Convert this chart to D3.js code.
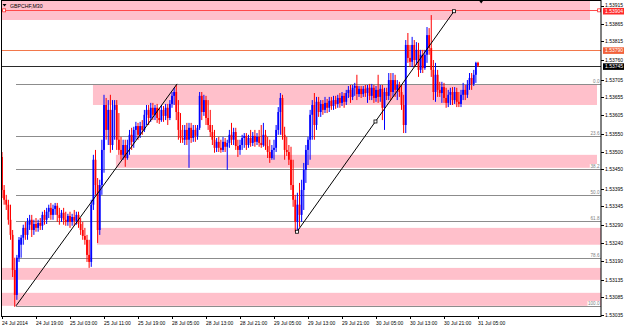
<!DOCTYPE html>
<html>
<head>
<meta charset="utf-8">
<script src="https://cdn.jsdelivr.net/npm/d3@7"></script>
<style>
  body { margin: 0; background: #fff; }
  svg { display: block; font-family: "Liberation Sans", Arial, sans-serif; }
</style>
</head>
<body>
<div id="chart"></div>
<script>
// ===== GBPCHF M30 chart =====

const W = 625, H = 326;
const symbol = "GBPCHF,M30";
const base = 1.53;

// OHLC per M30 bar, in points above 1.53000: [open, high, low, close]
const bars = [
  [485,499,368,391],[391,405,349,363],[363,377,334,349],[349,363,292,306],[306,349,249,263],
  [263,277,143,163],[163,198,58,92],[92,206,78,198],[198,257,186,249],[235,263,198,255],
  [255,292,235,283],[283,300,249,263],[263,311,249,300],[292,320,277,306],[306,320,257,277],
  [277,306,263,294],[294,311,272,283],[283,306,272,297],[297,311,277,289],[289,329,277,320],
  [320,334,292,306],[306,340,294,329],[329,349,311,340],[340,354,306,320],[320,349,306,337],
  [337,354,320,346],[346,354,300,320],[320,340,292,311],[311,334,300,326],[326,340,292,306],
  [306,329,289,300],[300,323,289,317],[317,329,283,300],[300,323,289,314],[314,334,289,303],
  [303,329,292,320],[320,329,283,294],[294,311,263,277],[277,300,249,260],[260,283,235,249],
  [249,263,186,206],[206,249,169,186],[186,363,172,349],[349,491,334,477],[477,505,377,405],
  [405,425,240,277],[277,420,263,405],[405,534,377,505],[505,662,440,633],[633,653,534,562],
  [562,647,519,619],[619,662,497,519],[519,647,505,619],[619,647,534,633],[633,647,505,534],
  [534,610,491,505],[505,542,477,491],[491,534,477,519],[519,534,457,482],[482,534,477,519],
  [519,562,491,548],[548,568,505,528],[528,571,511,562],[562,585,534,573],[573,582,534,548],
  [548,585,539,573],[573,590,548,562],[562,619,556,605],[605,633,576,619],[619,633,576,596],
  [596,639,585,625],[625,639,590,605],[605,633,590,625],[625,636,582,596],[596,625,579,590],
  [590,633,585,619],[619,630,585,602],[602,636,590,625],[625,636,576,596],[596,647,590,636],
  [636,670,625,659],[659,682,633,670],[670,690,590,613],[613,647,534,562],[562,610,525,539],
  [539,576,525,534],[534,576,519,562],[562,582,519,534],[534,582,454,568],[568,582,525,539],
  [539,576,528,562],[562,576,528,545],[545,576,534,568],[568,670,562,659],[659,670,590,613],
  [613,662,602,647],[647,659,576,596],[596,647,562,576],[576,619,542,556],[556,576,519,534],
  [534,562,497,511],[511,539,499,528],[528,542,499,511],[511,534,497,505],[505,542,499,528],
  [528,539,499,514],[514,534,448,525],[525,562,511,548],[548,582,519,534],[534,568,519,556],
  [556,568,505,516],[516,534,485,505],[505,534,491,519],[519,548,505,539],[539,553,511,545],
  [545,553,505,519],[519,548,511,539],[539,562,514,525],[525,556,516,545],[545,562,514,528],
  [528,553,519,542],[542,562,514,525],[525,576,511,519],[519,582,514,548],[548,562,505,516],
  [516,542,482,499],[499,534,468,482],[482,519,477,505],[505,534,477,511],[511,576,499,562],
  [562,627,548,613],[613,667,548,653],[653,662,534,548],[548,571,477,505],[505,542,488,499],
  [499,519,462,477],[477,514,391,405],[405,477,343,363],[363,377,272,300],[300,383,269,349],
  [349,411,286,320],[320,420,300,391],[391,468,334,448],[448,519,411,505],[505,542,462,534],
  [534,619,477,605],[605,647,534,633],[633,667,534,576],[576,656,562,642],[642,656,599,613],
  [613,647,599,636],[636,647,605,619],[619,656,610,639],[639,650,610,625],[625,656,613,645],
  [645,656,619,630],[630,659,619,647],[647,659,622,636],[636,662,625,653],[653,667,625,639],
  [639,670,630,659],[659,667,625,642],[642,676,633,667],[667,687,653,676],[676,690,639,656],
  [656,690,647,682],[682,696,659,687],[687,719,647,664],[664,687,656,679],[679,687,653,664],
  [664,687,656,679],[679,690,656,667],[667,690,639,682],[682,693,647,659],[659,693,647,682],
  [682,690,639,653],[653,687,642,676],[676,719,639,656],[656,690,642,679],[679,690,590,625],
  [625,682,562,670],[670,682,647,659],[659,724,647,704],[704,724,647,670],[670,724,656,704],
  [704,719,656,676],[676,704,647,690],[690,699,656,670],[670,690,619,633],[633,662,553,576],
  [576,818,553,804],[804,838,753,767],[767,804,741,756],[756,827,741,804],[804,818,741,761],
  [761,812,747,790],[790,810,713,733],[733,790,724,776],[776,790,724,738],[738,790,733,776],
  [776,855,753,832],[832,852,776,795],[795,889,713,733],[733,761,647,670],[670,753,642,719],
  [719,733,656,676],[676,699,656,667],[667,699,639,684],[684,696,639,653],[653,682,625,639],
  [639,676,627,662],[662,682,633,670],[670,684,633,647],[647,684,636,670],[670,682,627,642],
  [642,670,627,636],[636,676,627,662],[662,696,647,676],[676,690,647,662],[662,704,653,690],
  [690,724,676,710],[710,724,676,693],[693,733,687,719],[719,756,696,753],[753,756,741,745]
];

// time axis labels, one every 16 bars
const timeLabels = [
  "24 Jul 2014", "24 Jul 19:00", "25 Jul 03:00", "25 Jul 11:00", "25 Jul 19:00",
  "28 Jul 05:00", "28 Jul 13:00", "28 Jul 21:00", "29 Jul 05:00", "29 Jul 13:00",
  "29 Jul 21:00", "30 Jul 05:00", "30 Jul 13:00", "30 Jul 21:00", "31 Jul 05:00"
];
const labelStep = 16;

const priceTicks = [
  1.53915, 1.53865, 1.53815, 1.53760, 1.53705, 1.53655, 1.53605, 1.53550, 1.53500,
  1.53450, 1.53395, 1.53345, 1.53290, 1.53240, 1.53190, 1.53135, 1.53085, 1.53035
];

// pink supply/demand zones: [from bar, to bar, top price, bottom price]
const zones = [
  [-2, 276.7, 1.53930, 1.53875],
  [42.8, 280, 1.53690, 1.53633],
  [53.6, 280, 1.53491, 1.53454],
  [44.7, 282, 1.53283, 1.53235],
  [-2, 282, 1.53169, 1.53135],
  [-2, 282, 1.53098, 1.53061]
];

// fibonacci retracement
const fibLevels = [0, 23.6, 38.2, 50, 61.8, 78.6, 100];
const fibTop = 1.53693, fibBottom = 1.53061, fibStartBar = 6.6;

// trend lines: [bar1, price1, bar2, price2]
const trendLines = [
  [6.6, 1.53061, 82.4, 1.53693],
  [138.8, 1.53272, 212.7, 1.53900]
];

// horizontal lines with their price tags
const hLines = [
  { price: 1.53904, line: "#ff4a4a", tag: "#ff2a2a" },
  { price: 1.53790, line: "#f2784b", tag: "#f2613a" },
  { price: 1.53745, line: "#2a2a2a", tag: "#000000" }
];

const plot = { left: 1.5, right: 601, top: 0, bottom: 316 };

const x = d3.scaleLinear().domain([0, 282]).range([2, 601.25]);
const y = d3.scaleLinear().domain([1.53032, 1.53932]).range([plot.bottom, plot.top]);
const px = v => base + v / 100000;

const svg = d3.select("#chart").append("svg")
  .attr("width", W).attr("height", H);

svg.append("defs").append("clipPath").attr("id", "plot-clip")
  .append("rect")
  .attr("x", plot.left).attr("y", plot.top)
  .attr("width", plot.right - plot.left).attr("height", plot.bottom - plot.top);

const g = svg.append("g").attr("clip-path", "url(#plot-clip)");

// zones
g.selectAll("rect.zone").data(zones).join("rect")
  .attr("class", "zone")
  .attr("x", d => x(d[0]))
  .attr("width", d => x(d[1]) - x(d[0]))
  .attr("y", d => y(d[2]))
  .attr("height", d => y(d[3]) - y(d[2]))
  .attr("fill", "#ffc0cb");

// fib levels
const fibPrice = lv => fibTop - (fibTop - fibBottom) * lv / 100;
g.selectAll("line.fib").data(fibLevels).join("line")
  .attr("x1", x(fibStartBar)).attr("x2", plot.right)
  .attr("y1", d => Math.round(y(fibPrice(d))) + 0.5)
  .attr("y2", d => Math.round(y(fibPrice(d))) + 0.5)
  .attr("stroke", "#8c8c8c").attr("stroke-width", 1);

// horizontal lines
g.selectAll("line.hl").data(hLines).join("line")
  .attr("x1", plot.left).attr("x2", plot.right)
  .attr("y1", d => Math.round(y(d.price)) + 0.5)
  .attr("y2", d => Math.round(y(d.price)) + 0.5)
  .attr("stroke", d => d.line).attr("stroke-width", 1);

// candles
const cg = g.append("g");
bars.forEach((b, i) => {
  const [o, h, l, c] = b.map(px);
  const col = c >= o ? "#0000ff" : "#ff0000";
  const cx = x(i);
  cg.append("line")
    .attr("x1", cx).attr("x2", cx)
    .attr("y1", y(h)).attr("y2", y(l))
    .attr("stroke", col).attr("stroke-width", 1);
  const top = y(Math.max(o, c)), bot = y(Math.min(o, c));
  cg.append("rect")
    .attr("x", cx - 0.9).attr("width", 1.8)
    .attr("y", top).attr("height", Math.max(1, bot - top))
    .attr("fill", col);
});

// trend lines
g.selectAll("line.trend").data(trendLines).join("line")
  .attr("x1", d => x(d[0])).attr("y1", d => y(d[1]))
  .attr("x2", d => x(d[2])).attr("y2", d => y(d[3]))
  .attr("stroke", "#000").attr("stroke-width", 1);

// selection handles on the second trend line
const tl = trendLines[1];
const handles = [
  [tl[0], tl[1]], [(tl[0] + tl[2]) / 2, (tl[1] + tl[3]) / 2], [tl[2], tl[3]]
];
g.selectAll("rect.handle").data(handles).join("rect")
  .attr("x", d => x(d[0]) - 1.5).attr("y", d => y(d[1]) - 1.5)
  .attr("width", 3).attr("height", 3)
  .attr("fill", "#fff").attr("stroke", "#000").attr("stroke-width", 0.8);

// handles on the red line
g.selectAll("rect.rh").data([1, 281]).join("rect")
  .attr("x", d => x(d) - 1.5).attr("y", y(hLines[0].price) - 1)
  .attr("width", 3).attr("height", 3)
  .attr("fill", "#fff").attr("stroke", "#ff2a2a").attr("stroke-width", 0.8);

// fib labels
const fl = svg.append("g");
fibLevels.forEach(lv => {
  const yy = Math.round(y(fibPrice(lv)));
  const txt = lv.toFixed(1);
  const w = txt.length * 2.3 + 1;
  fl.append("rect")
    .attr("x", plot.right - 1 - w).attr("y", yy - 5)
    .attr("width", w).attr("height", 5)
    .attr("fill", "#fff");
  fl.append("text")
    .attr("x", plot.right - 1.5).attr("y", yy - 1)
    .attr("text-anchor", "end")
    .attr("font-size", 4.6).attr("fill", "#808080")
    .text(txt);
});

// frame
svg.append("rect")
  .attr("x", plot.left).attr("y", plot.top + 0.5)
  .attr("width", plot.right - plot.left).attr("height", plot.bottom - plot.top)
  .attr("fill", "none").attr("stroke", "#000").attr("stroke-width", 1);

// price axis
const ax = svg.append("g");
priceTicks.forEach((p, k) => {
  const yy = Math.round(y(p)) + 0.5;
  ax.append("line")
    .attr("x1", plot.right).attr("x2", plot.right + 3)
    .attr("y1", yy).attr("y2", yy)
    .attr("stroke", "#000");
  // top label sits just above the red price tag
  ax.append("text")
    .attr("x", 605).attr("y", k === 0 ? yy + 0.3 : yy + 1.8)
    .attr("font-size", 5).attr("fill", "#000")
    .text(p.toFixed(5));
});

// price tags
hLines.forEach((d, k) => {
  const yy = Math.round(y(d.price)) + 0.5 + (k === 0 ? 0.6 : 0);
  ax.append("rect")
    .attr("x", 603).attr("y", yy - 3.2)
    .attr("width", 21).attr("height", 6.6)
    .attr("fill", d.tag);
  ax.append("text")
    .attr("x", 605).attr("y", yy + 1.8)
    .attr("font-size", 5).attr("fill", "#fff")
    .text(d.price.toFixed(5));
});

// time axis
timeLabels.forEach((t, k) => {
  const xx = Math.round(x(k * labelStep)) + 0.5;
  ax.append("line")
    .attr("x1", xx).attr("x2", xx)
    .attr("y1", plot.bottom).attr("y2", plot.bottom + 3)
    .attr("stroke", "#000");
  ax.append("text")
    .attr("x", xx - 0.5).attr("y", 324.5)
    .attr("font-size", 5).attr("fill", "#000")
    .text(t);
});

// symbol caption
svg.append("path")
  .attr("d", "M2.5,4 L6.5,4 L4.5,6.5 Z")
  .attr("fill", "#000");
svg.append("text")
  .attr("x", 10).attr("y", 7.5)
  .attr("font-size", 5.2).attr("fill", "#000")
  .text(symbol);

// chart shift marker
svg.append("path")
  .attr("d", `M${x(225.5) - 2.5},0 L${x(225.5) + 2.5},0 L${x(225.5)},3.5 Z`)
  .attr("fill", "#000");
</script>
</body>
</html>
